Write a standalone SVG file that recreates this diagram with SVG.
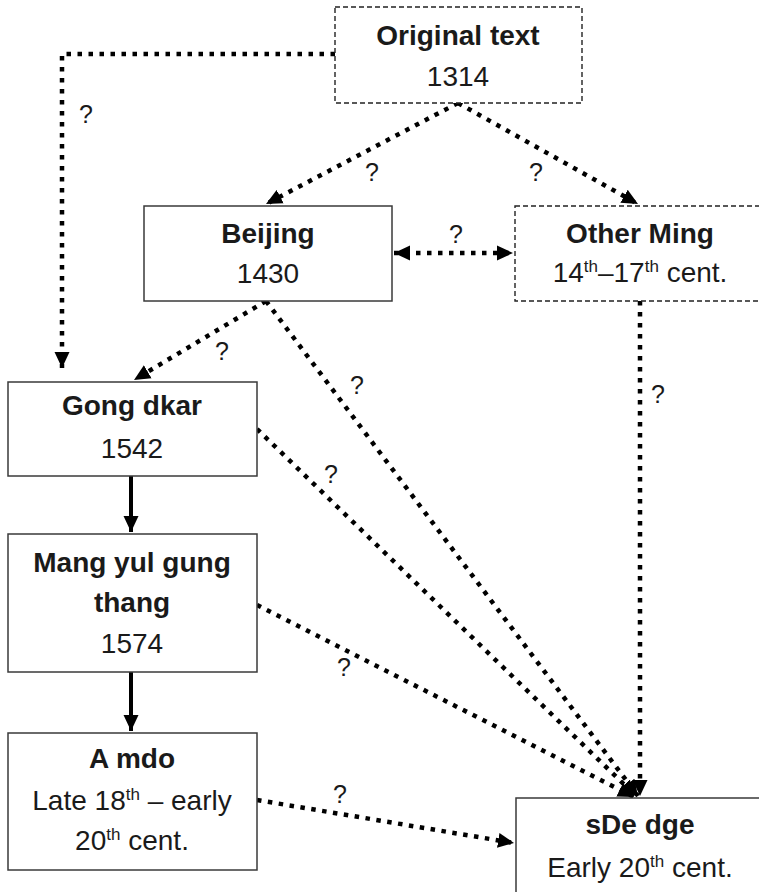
<svg xmlns="http://www.w3.org/2000/svg" width="759" height="892" viewBox="0 0 759 892">
<style>
.box{fill:#fff;stroke:#3a3a3a;stroke-width:1.5}
.dbox{fill:#fff;stroke:#222;stroke-width:1.4;stroke-dasharray:5 3}
.t{font-family:"Liberation Sans",Arial,sans-serif;font-size:28px;fill:#1a1a1a;text-anchor:middle}
.b{font-weight:bold}
.q{font-family:"Liberation Sans",Arial,sans-serif;font-size:25px;fill:#1a1a1a;text-anchor:middle}
.dot{fill:none;stroke:#000;stroke-width:4.5;stroke-dasharray:4.5 6.5}
.sol{fill:none;stroke:#000;stroke-width:4}
</style>
<defs>
<marker id="ah" markerUnits="userSpaceOnUse" markerWidth="17" markerHeight="16" refX="16" refY="7.5" orient="auto-start-reverse" viewBox="0 0 17 15">
<path d="M0,0 L16,7.5 L0,15 z" fill="#000"/>
</marker>
</defs>
<g id="connectors">
<path class="dot" d="M335,54 L62,54 L62,368" marker-end="url(#ah)"/>
<path class="dot" d="M458,103 L266,204" marker-end="url(#ah)"/>
<path class="dot" d="M458,103 L638,204" marker-end="url(#ah)"/>
<path class="dot" d="M394,253 L513,253" marker-start="url(#ah)" marker-end="url(#ah)"/>
<path class="dot" d="M266,301 L134,380" marker-end="url(#ah)"/>
<path class="dot" d="M266,301 L638,796" marker-end="url(#ah)"/>
<path class="dot" d="M640,301 L640,796" marker-end="url(#ah)"/>
<path class="dot" d="M257,429 L636,796" marker-end="url(#ah)"/>
<path class="dot" d="M257,605 L634,797" marker-end="url(#ah)"/>
<path class="dot" d="M257,800 L514,843" marker-end="url(#ah)"/>
<path class="sol" d="M131,476 L131,532" marker-end="url(#ah)"/>
<path class="sol" d="M131,672 L131,731" marker-end="url(#ah)"/>
<text class="q" x="86" y="123">?</text>
<text class="q" x="372" y="181">?</text>
<text class="q" x="536" y="181">?</text>
<text class="q" x="456" y="243">?</text>
<text class="q" x="222" y="360">?</text>
<text class="q" x="357" y="394">?</text>
<text class="q" x="658" y="403">?</text>
<text class="q" x="331" y="483">?</text>
<text class="q" x="344" y="676">?</text>
<text class="q" x="340" y="803">?</text>
</g>
<g id="original">
<rect class="dbox" x="335" y="7" width="247" height="96"/>
<text class="t b" x="458" y="45">Original text</text>
<text class="t" x="458" y="86">1314</text>
</g>
<g id="beijing">
<rect class="box" x="144" y="206" width="248" height="95"/>
<text class="t b" x="268" y="243">Beijing</text>
<text class="t" x="268" y="283">1430</text>
</g>
<g id="otherming">
<rect class="dbox" x="515" y="206" width="250" height="95"/>
<text class="t b" x="640" y="243">Other Ming</text>
<text class="t" x="640" y="282">14<tspan font-size="17" dy="-10">th</tspan><tspan dy="10">–17</tspan><tspan font-size="17" dy="-10">th</tspan><tspan dy="10"> cent.</tspan></text>
</g>
<g id="gongdkar">
<rect class="box" x="8" y="382" width="249" height="94"/>
<text class="t b" x="132" y="415">Gong dkar</text>
<text class="t" x="132" y="458">1542</text>
</g>
<g id="mangyul">
<rect class="box" x="8" y="534" width="249" height="138"/>
<text class="t b" x="132" y="572">Mang yul gung</text>
<text class="t b" x="132" y="612">thang</text>
<text class="t" x="132" y="653">1574</text>
</g>
<g id="amdo">
<rect class="box" x="8" y="733" width="249" height="137"/>
<text class="t b" x="132" y="768">A mdo</text>
<text class="t" x="132" y="810">Late 18<tspan font-size="17" dy="-10">th</tspan><tspan dy="10"> – early</tspan></text>
<text class="t" x="132" y="850">20<tspan font-size="17" dy="-10">th</tspan><tspan dy="10"> cent.</tspan></text>
</g>
<g id="sdedge">
<rect class="box" x="516" y="798" width="250" height="110"/>
<text class="t b" x="640" y="834">sDe dge</text>
<text class="t" x="640" y="877">Early 20<tspan font-size="17" dy="-10">th</tspan><tspan dy="10"> cent.</tspan></text>
</g>
</svg>
